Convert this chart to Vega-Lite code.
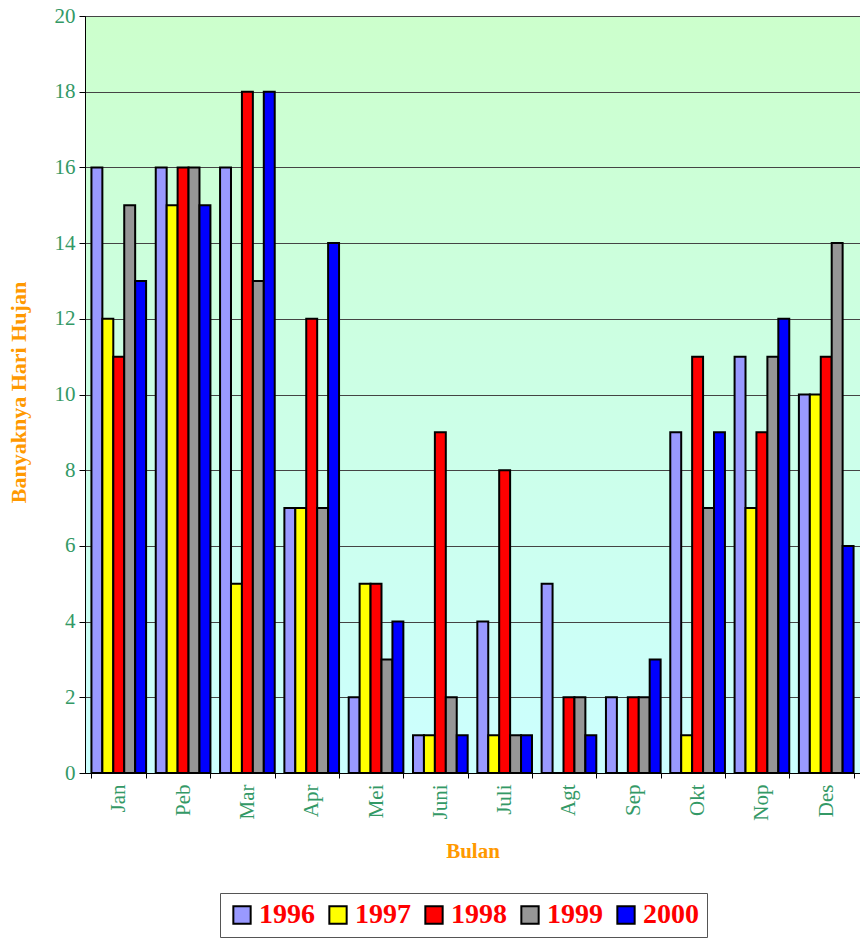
{
  "$schema": "https://vega.github.io/schema/vega-lite/v6.json",
  "width": 775,
  "height": 757,
  "autosize": "none",
  "padding": {"left": 85, "top": 16, "right": 0, "bottom": 166},
  "background": "white",
  "config": {
    "font": "Liberation Serif",
    "view": {
      "stroke": "black",
      "strokeWidth": 1,
      "fill": {"gradient": "linear", "x1": 0, "y1": 0, "x2": 0, "y2": 1, "stops": [{"offset": 0, "color": "#CCFFCC"}, {"offset": 1, "color": "#CCFFFF"}]}
    }
  },
  "data": {
    "values": [
      {"bulan": "Jan", "tahun": "1996", "hari": 16}, {"bulan": "Jan", "tahun": "1997", "hari": 12}, {"bulan": "Jan", "tahun": "1998", "hari": 11}, {"bulan": "Jan", "tahun": "1999", "hari": 15}, {"bulan": "Jan", "tahun": "2000", "hari": 13},
      {"bulan": "Peb", "tahun": "1996", "hari": 16}, {"bulan": "Peb", "tahun": "1997", "hari": 15}, {"bulan": "Peb", "tahun": "1998", "hari": 16}, {"bulan": "Peb", "tahun": "1999", "hari": 16}, {"bulan": "Peb", "tahun": "2000", "hari": 15},
      {"bulan": "Mar", "tahun": "1996", "hari": 16}, {"bulan": "Mar", "tahun": "1997", "hari": 5}, {"bulan": "Mar", "tahun": "1998", "hari": 18}, {"bulan": "Mar", "tahun": "1999", "hari": 13}, {"bulan": "Mar", "tahun": "2000", "hari": 18},
      {"bulan": "Apr", "tahun": "1996", "hari": 7}, {"bulan": "Apr", "tahun": "1997", "hari": 7}, {"bulan": "Apr", "tahun": "1998", "hari": 12}, {"bulan": "Apr", "tahun": "1999", "hari": 7}, {"bulan": "Apr", "tahun": "2000", "hari": 14},
      {"bulan": "Mei", "tahun": "1996", "hari": 2}, {"bulan": "Mei", "tahun": "1997", "hari": 5}, {"bulan": "Mei", "tahun": "1998", "hari": 5}, {"bulan": "Mei", "tahun": "1999", "hari": 3}, {"bulan": "Mei", "tahun": "2000", "hari": 4},
      {"bulan": "Juni", "tahun": "1996", "hari": 1}, {"bulan": "Juni", "tahun": "1997", "hari": 1}, {"bulan": "Juni", "tahun": "1998", "hari": 9}, {"bulan": "Juni", "tahun": "1999", "hari": 2}, {"bulan": "Juni", "tahun": "2000", "hari": 1},
      {"bulan": "Juli", "tahun": "1996", "hari": 4}, {"bulan": "Juli", "tahun": "1997", "hari": 1}, {"bulan": "Juli", "tahun": "1998", "hari": 8}, {"bulan": "Juli", "tahun": "1999", "hari": 1}, {"bulan": "Juli", "tahun": "2000", "hari": 1},
      {"bulan": "Agt", "tahun": "1996", "hari": 5}, {"bulan": "Agt", "tahun": "1997", "hari": 0}, {"bulan": "Agt", "tahun": "1998", "hari": 2}, {"bulan": "Agt", "tahun": "1999", "hari": 2}, {"bulan": "Agt", "tahun": "2000", "hari": 1},
      {"bulan": "Sep", "tahun": "1996", "hari": 2}, {"bulan": "Sep", "tahun": "1997", "hari": 0}, {"bulan": "Sep", "tahun": "1998", "hari": 2}, {"bulan": "Sep", "tahun": "1999", "hari": 2}, {"bulan": "Sep", "tahun": "2000", "hari": 3},
      {"bulan": "Okt", "tahun": "1996", "hari": 9}, {"bulan": "Okt", "tahun": "1997", "hari": 1}, {"bulan": "Okt", "tahun": "1998", "hari": 11}, {"bulan": "Okt", "tahun": "1999", "hari": 7}, {"bulan": "Okt", "tahun": "2000", "hari": 9},
      {"bulan": "Nop", "tahun": "1996", "hari": 11}, {"bulan": "Nop", "tahun": "1997", "hari": 7}, {"bulan": "Nop", "tahun": "1998", "hari": 9}, {"bulan": "Nop", "tahun": "1999", "hari": 11}, {"bulan": "Nop", "tahun": "2000", "hari": 12},
      {"bulan": "Des", "tahun": "1996", "hari": 10}, {"bulan": "Des", "tahun": "1997", "hari": 10}, {"bulan": "Des", "tahun": "1998", "hari": 11}, {"bulan": "Des", "tahun": "1999", "hari": 14}, {"bulan": "Des", "tahun": "2000", "hari": 6}
    ]
  },
  "mark": {"type": "bar", "stroke": "black", "strokeWidth": 2, "strokeOpacity": 1},
  "encoding": {
    "x": {
      "field": "bulan",
      "type": "nominal",
      "sort": ["Jan", "Peb", "Mar", "Apr", "Mei", "Juni", "Juli", "Agt", "Sep", "Okt", "Nop", "Des"],
      "scale": {"paddingInner": 0.15, "paddingOuter": 0.1},
      "axis": {
        "title": "Bulan",
        "titleColor": "#FF9900",
        "titleFont": "Liberation Serif",
        "titleFontSize": 21,
        "titleFontWeight": "bold",
        "titlePadding": 20,
        "labelAngle": -90,
        "labelColor": "#339966",
        "labelFont": "Liberation Serif",
        "labelFontSize": 21,
        "labelPadding": 6,
        "domainColor": "black",
        "tickColor": "black",
        "tickSize": 5,
        "tickBand": "extent",
        "grid": false
      }
    },
    "xOffset": {"field": "tahun", "type": "nominal", "scale": {"paddingInner": 0, "paddingOuter": 0}},
    "y": {
      "field": "hari",
      "type": "quantitative",
      "scale": {"domain": [0, 20], "nice": false},
      "axis": {
        "title": "Banyaknya Hari Hujan",
        "titleColor": "#FF9900",
        "titleFont": "Liberation Serif",
        "titleFontSize": 22,
        "titleFontWeight": "bold",
        "titleX": -67,
        "titleY": 376,
        "titleAngle": 270,
        "titleAlign": "center",
        "titleBaseline": "middle",
        "values": [0, 2, 4, 6, 8, 10, 12, 14, 16, 18, 20],
        "labelColor": "#339966",
        "labelFont": "Liberation Serif",
        "labelFontSize": 21,
        "labelPadding": 4,
        "domainColor": "black",
        "tickColor": "black",
        "tickSize": 6,
        "grid": true,
        "gridColor": "#444444",
        "gridOpacity": 1,
        "gridWidth": 1.2
      }
    },
    "color": {
      "field": "tahun",
      "type": "nominal",
      "scale": {"domain": ["1996", "1997", "1998", "1999", "2000"], "range": ["#9999FF", "#FFFF00", "#FF0000", "#969696", "#0000FF"]},
      "legend": {
        "title": null,
        "orient": "none",
        "legendX": 135,
        "legendY": 877,
        "direction": "horizontal",
        "symbolType": "square",
        "symbolSize": 300,
        "symbolStrokeColor": "black",
        "symbolStrokeWidth": 2,
        "symbolOpacity": 1,
        "labelColor": "#FF0000",
        "labelFont": "Liberation Serif",
        "labelFontSize": 28,
        "labelFontWeight": "bold",
        "labelOffset": 3,
        "columnPadding": 9,
        "strokeColor": "#555555",
        "padding": 8
      }
    }
  }
}
